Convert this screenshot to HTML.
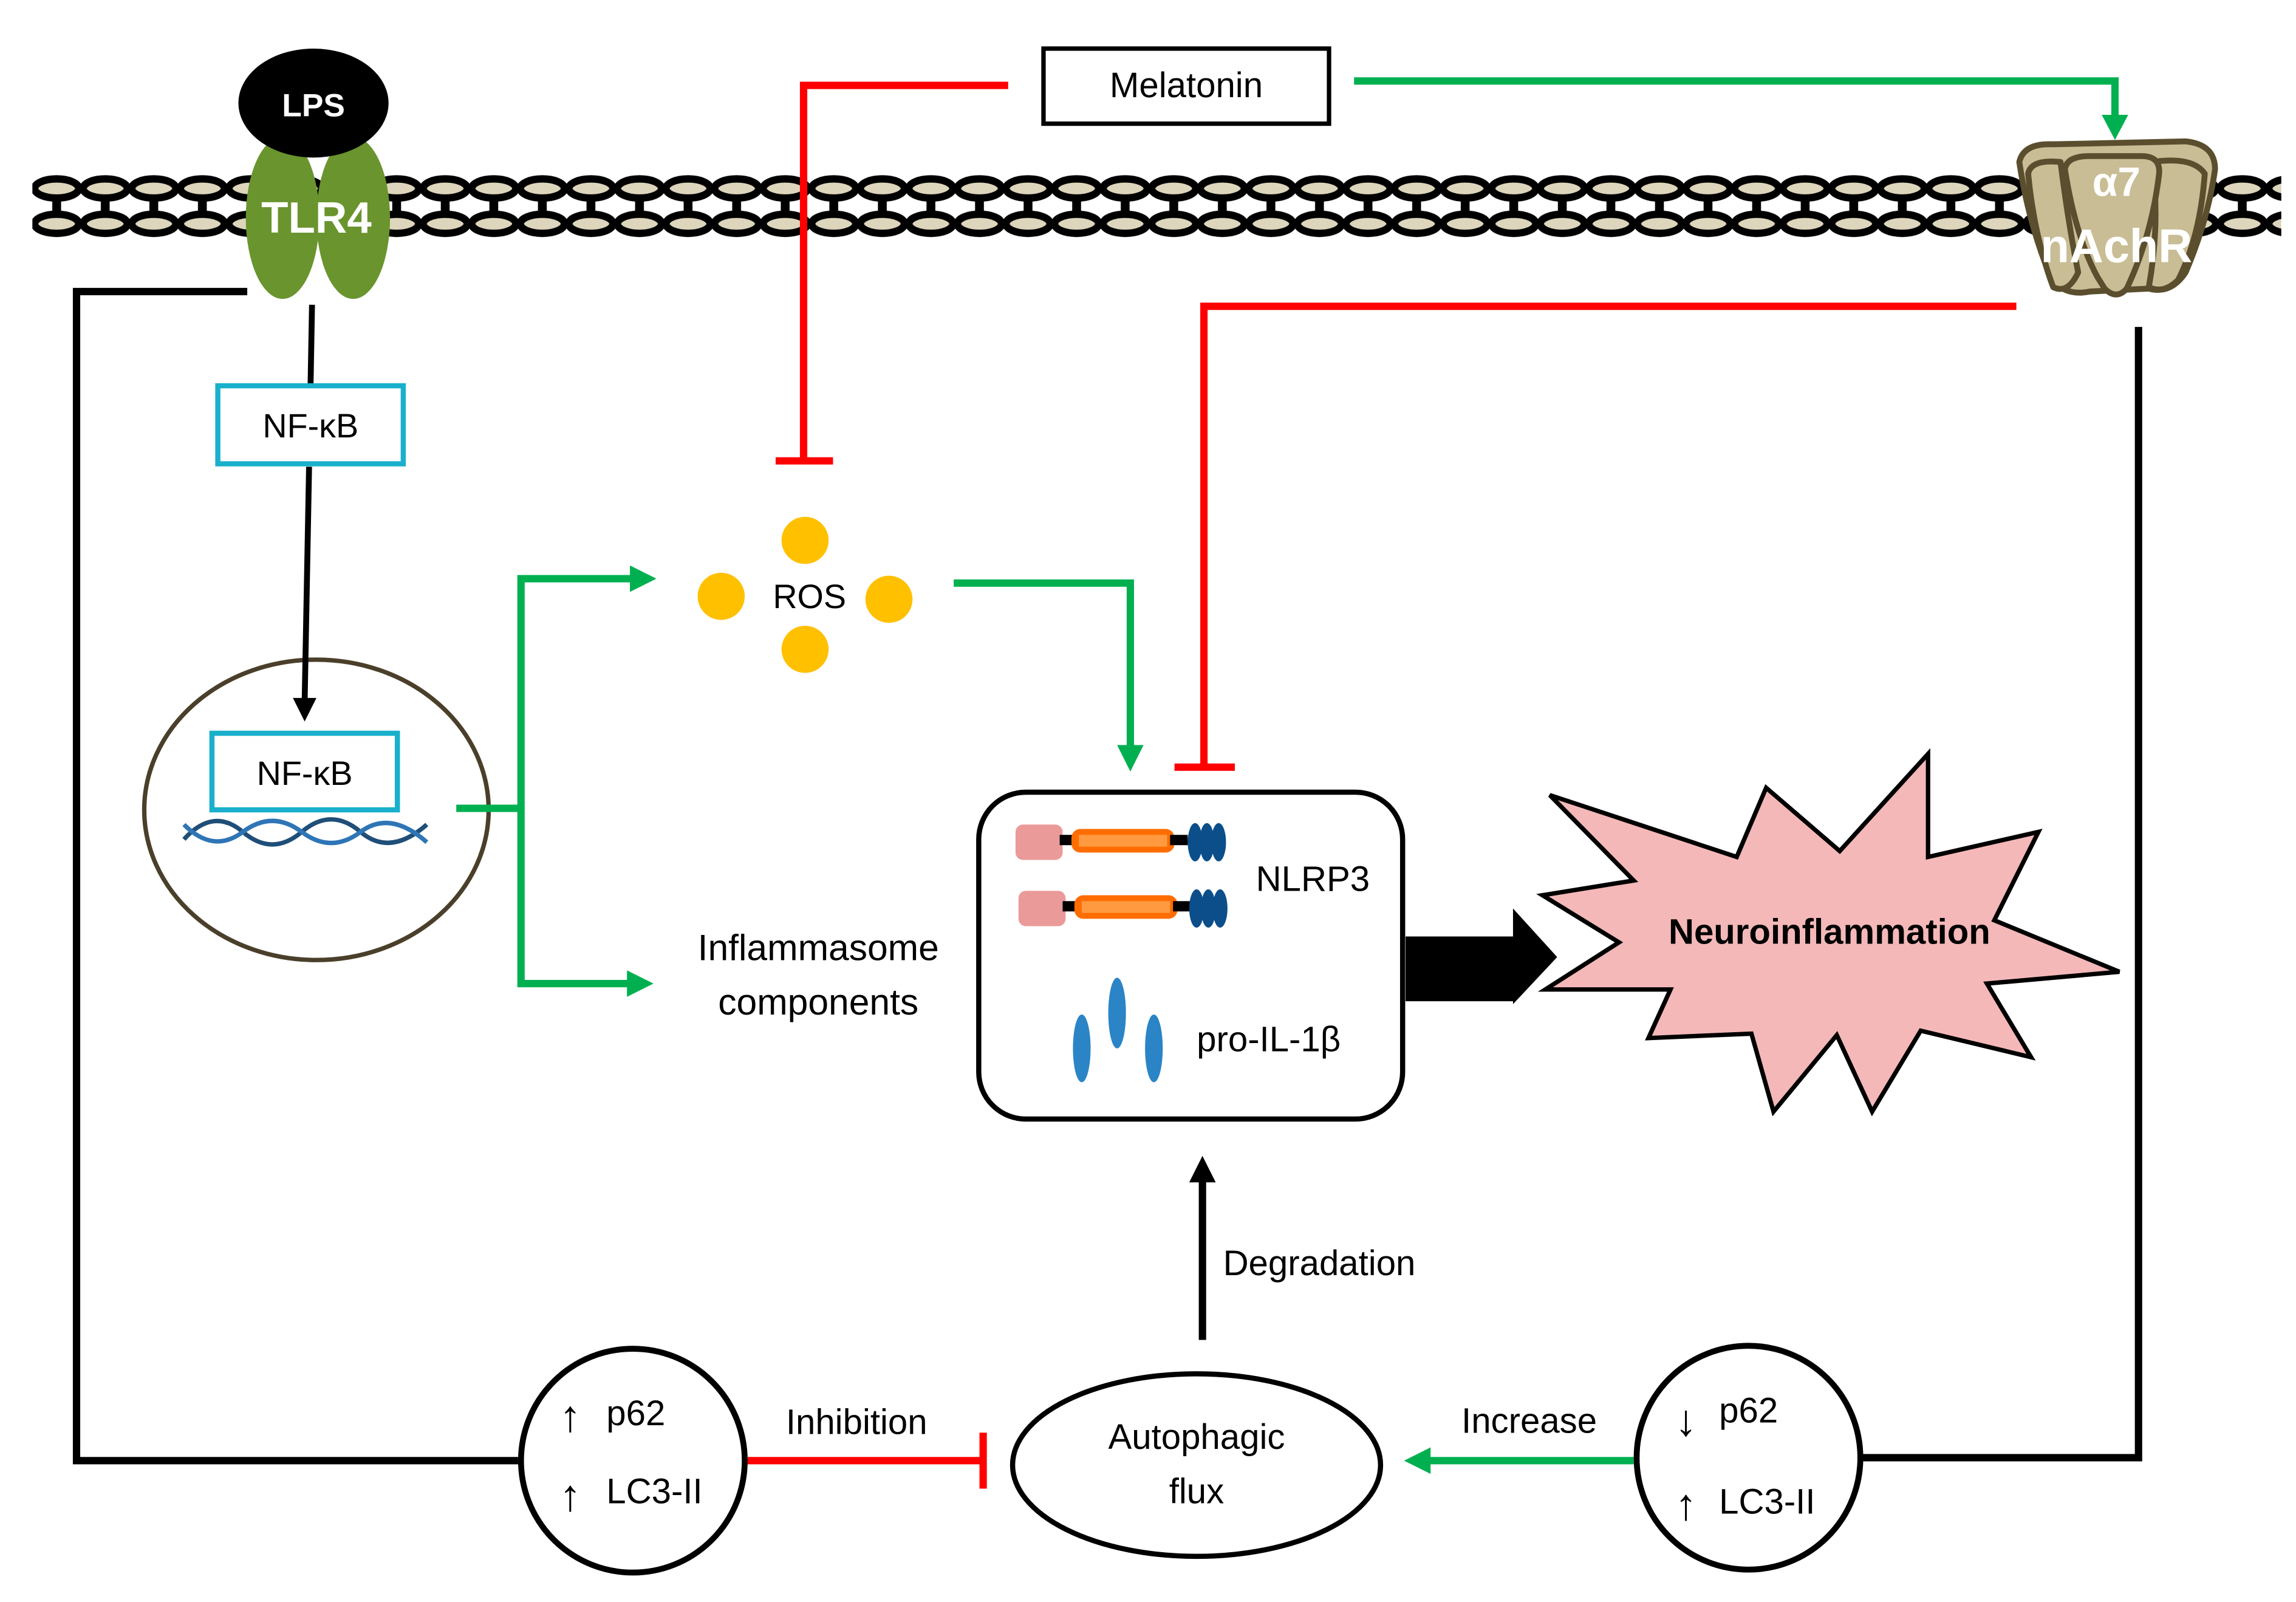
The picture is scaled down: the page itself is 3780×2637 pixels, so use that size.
<!DOCTYPE html>
<html><head><meta charset="utf-8"><style>
html,body{margin:0;padding:0;background:#fff;}
svg{display:block;}
text{font-family:"Liberation Sans",sans-serif;}
</style></head><body>
<svg width="3780" height="2637" viewBox="0 0 1560 1088" preserveAspectRatio="none" xmlns="http://www.w3.org/2000/svg">
<defs>
<pattern id="mem" x="22" y="118" width="33" height="44" patternUnits="userSpaceOnUse">
<rect x="0" y="0" width="33" height="44" fill="#fff"/>
<rect x="13.5" y="12" width="6" height="20" fill="#000"/>
<ellipse cx="16.5" cy="10" rx="15" ry="6.5" fill="#ddd6bc" stroke="#000" stroke-width="5"/>
<ellipse cx="16.5" cy="34" rx="15" ry="6.5" fill="#ddd6bc" stroke="#000" stroke-width="5"/>
</pattern>
</defs>
<rect width="1560" height="1088" fill="#fff"/>
<rect x="22" y="118" width="1528" height="44" fill="url(#mem)"/>
<!-- LPS / TLR4 -->
<ellipse cx="192" cy="148" rx="25" ry="55" fill="#6a942e"/>
<ellipse cx="240" cy="148" rx="25" ry="55" fill="#6a942e"/>
<ellipse cx="213" cy="70" rx="51" ry="37" fill="#000"/>
<text x="213" y="79" font-size="22" font-weight="bold" fill="#fff" text-anchor="middle">LPS</text>
<text x="215" y="158" font-size="30" font-weight="bold" fill="#fff" text-anchor="middle">TLR4</text>
<!-- nAchR -->
<g stroke="#5a4e2e" stroke-width="4" fill="#c9bd96" stroke-linejoin="round">
<path d="M1372,110 Q1375,97 1395,98 L1485,96 Q1505,98 1505,115 Q1500,150 1485,185 Q1475,200 1460,196 L1420,198 Q1400,202 1392,185 Q1378,150 1372,110 Z"/>
<path d="M1378,118 Q1380,108 1400,110 Q1405,150 1412,185 Q1405,200 1395,195 Q1382,160 1378,118 Z"/>
<path d="M1462,110 Q1490,106 1498,118 Q1495,160 1480,190 Q1470,200 1460,195 Q1468,150 1462,110 Z"/>
<path d="M1403,115 Q1404,106 1420,106 L1455,106 Q1468,106 1467,118 Q1462,160 1445,196 Q1438,204 1430,196 L1425,188 Q1410,160 1403,115 Z"/>
</g>
<text x="1438" y="133" font-size="28" font-weight="bold" fill="#fff" text-anchor="middle">α7</text>
<text x="1438" y="178" font-size="32" font-weight="bold" fill="#fff" text-anchor="middle">nAchR</text>
<!-- Melatonin -->
<rect x="709" y="33" width="194" height="51" fill="#fff" stroke="#000" stroke-width="3"/>
<text x="806" y="66" font-size="24" text-anchor="middle">Melatonin</text>
<polyline points="685,58 546,58 546,313" fill="none" stroke="#f00" stroke-width="5"/>
<line x1="527" y1="313" x2="566" y2="313" stroke="#f00" stroke-width="5"/>
<polyline points="920,55 1437,55 1437,82" fill="none" stroke="#00b050" stroke-width="5"/>
<polygon points="1428,78 1446,78 1437,95" fill="#00b050"/>
<polyline points="1370,208 818,208 818,521" fill="none" stroke="#f00" stroke-width="5"/>
<line x1="798" y1="521" x2="839" y2="521" stroke="#f00" stroke-width="5"/>
<polyline points="168,198 52,198 52,992 352,992" fill="none" stroke="#000" stroke-width="5"/>
<polyline points="1453,222 1453,990 1264,990" fill="none" stroke="#000" stroke-width="5"/>
<!-- NF-kB -->
<line x1="212" y1="207" x2="211" y2="262" stroke="#000" stroke-width="4"/>
<rect x="148" y="262" width="126" height="53" fill="#fff" stroke="#1ab0cc" stroke-width="3.5"/>
<text x="211" y="297" font-size="23" text-anchor="middle">NF-κB</text>
<ellipse cx="215" cy="550" rx="117" ry="102" fill="#fff" stroke="#4a3f2a" stroke-width="3"/>
<line x1="210" y1="317" x2="207" y2="476" stroke="#000" stroke-width="4"/>
<polygon points="199,474 215,474 207,490" fill="#000"/>
<path d="M125,570 Q145,548 165,565 T205,565 T245,565 T290,560" fill="none" stroke="#1f4e79" stroke-width="3"/>
<path d="M125,560 Q145,580 165,565 T205,565 T245,565 T290,572" fill="none" stroke="#2e75b6" stroke-width="3"/>
<rect x="144" y="498" width="126" height="52" fill="#fff" stroke="#1ab0cc" stroke-width="3.5"/>
<text x="207" y="533" font-size="23" text-anchor="middle">NF-κB</text>
<polyline points="310,549 354,549" fill="none" stroke="#00b050" stroke-width="5"/>
<polyline points="430,393 354,393 354,668 430,668" fill="none" stroke="#00b050" stroke-width="5"/>
<polygon points="428,384 446,393 428,402" fill="#00b050"/>
<polygon points="426,659 444,668 426,677" fill="#00b050"/>
<!-- ROS -->
<g fill="#ffc000">
<circle cx="547" cy="367" r="16"/><circle cx="490" cy="405" r="16"/><circle cx="604" cy="407" r="16"/><circle cx="547" cy="441" r="16"/>
</g>
<text x="550" y="413" font-size="23" text-anchor="middle">ROS</text>
<polyline points="648,396 768,396 768,510" fill="none" stroke="#00b050" stroke-width="5"/>
<polygon points="759,506 777,506 768,524" fill="#00b050"/>
<text x="556" y="652" font-size="25" text-anchor="middle">Inflammasome</text>
<text x="556" y="689" font-size="25" text-anchor="middle">components</text>
<!-- NLRP3 box -->
<rect x="665" y="538" width="288" height="222" rx="32" fill="#fff" stroke="#000" stroke-width="3.5"/>
<g>
<rect x="690" y="560" width="32" height="24" rx="5" fill="#eb9a9a"/>
<rect x="720" y="567" width="12" height="7" fill="#000"/>
<rect x="728" y="563" width="70" height="16" rx="6" fill="#ff6d00"/>
<rect x="733" y="567" width="60" height="8" fill="#ff9a40"/>
<rect x="795" y="567" width="12" height="7" fill="#000"/>
<ellipse cx="812" cy="572" rx="5" ry="13" fill="#0b4e8a"/><ellipse cx="820" cy="572" rx="5" ry="13" fill="#0b4e8a"/><ellipse cx="828" cy="572" rx="5" ry="13" fill="#0b4e8a"/>
<rect x="692" y="605" width="32" height="24" rx="5" fill="#eb9a9a"/>
<rect x="722" y="612" width="12" height="7" fill="#000"/>
<rect x="730" y="608" width="70" height="16" rx="6" fill="#ff6d00"/>
<rect x="735" y="612" width="60" height="8" fill="#ff9a40"/>
<rect x="797" y="612" width="12" height="7" fill="#000"/>
<ellipse cx="813" cy="617" rx="5" ry="13" fill="#0b4e8a"/><ellipse cx="821" cy="617" rx="5" ry="13" fill="#0b4e8a"/><ellipse cx="829" cy="617" rx="5" ry="13" fill="#0b4e8a"/>
</g>
<text x="892" y="605" font-size="24" text-anchor="middle">NLRP3</text>
<ellipse cx="735" cy="712" rx="6" ry="23" fill="#2a84c6"/>
<ellipse cx="759" cy="688" rx="6" ry="24" fill="#2a84c6"/>
<ellipse cx="784" cy="712" rx="6" ry="23" fill="#2a84c6"/>
<text x="862" y="714" font-size="24" text-anchor="middle">pro-IL-1β</text>
<rect x="955" y="636" width="75" height="44" fill="#000"/>
<polygon points="1028,617 1058,650 1028,682" fill="#000"/>
<polygon points="1053,540 1180,582 1200,535 1250,578 1310,512 1310,582 1385,565 1355,625 1440,660 1350,668 1380,718 1305,700 1272,755 1248,703 1205,755 1190,702 1120,705 1135,672 1050,672 1100,640 1048,608 1110,598" fill="#f4b8b8" stroke="#000" stroke-width="3"/>
<text x="1243" y="641" font-size="24" font-weight="bold" text-anchor="middle">Neuroinflammation</text>
<line x1="817" y1="910" x2="817" y2="800" stroke="#000" stroke-width="5"/>
<polygon points="808,803 826,803 817,785" fill="#000"/>
<text x="831" y="866" font-size="24">Degradation</text>
<ellipse cx="813" cy="995" rx="125" ry="62" fill="#fff" stroke="#000" stroke-width="3.5"/>
<text x="813" y="984" font-size="24" text-anchor="middle">Autophagic</text>
<text x="813" y="1021" font-size="24" text-anchor="middle">flux</text>
<circle cx="430" cy="992" r="76" fill="#fff" stroke="#000" stroke-width="4"/>
<text x="380" y="972" font-size="30">↑</text><text x="412" y="968" font-size="24">p62</text>
<text x="380" y="1026" font-size="30">↑</text><text x="412" y="1021" font-size="24">LC3-II</text>
<line x1="508" y1="992" x2="668" y2="992" stroke="#f00" stroke-width="5"/>
<line x1="668" y1="973" x2="668" y2="1011" stroke="#f00" stroke-width="5"/>
<text x="582" y="974" font-size="24" text-anchor="middle">Inhibition</text>
<line x1="1110" y1="992" x2="970" y2="992" stroke="#00b050" stroke-width="5"/>
<polygon points="972,983 972,1001 954,992" fill="#00b050"/>
<text x="1039" y="973" font-size="24" text-anchor="middle">Increase</text>
<circle cx="1188" cy="990" r="76" fill="#fff" stroke="#000" stroke-width="4"/>
<text x="1138" y="975" font-size="30">↓</text><text x="1168" y="966" font-size="24">p62</text>
<text x="1138" y="1032" font-size="30">↑</text><text x="1168" y="1028" font-size="24">LC3-II</text>
</svg>
</body></html>
